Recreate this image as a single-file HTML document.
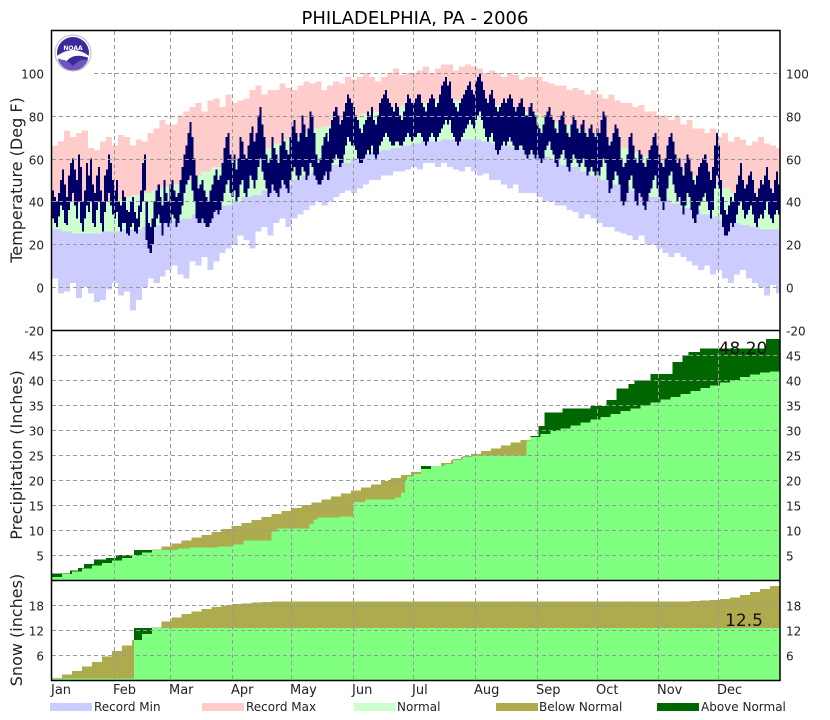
<!DOCTYPE html>
<html><head><meta charset="utf-8"><style>
body{margin:0;background:#fff;}
svg{display:block;font-family:"DejaVu Sans","Liberation Sans",sans-serif;}
</style></head><body>
<svg id="c" width="830" height="720" xmlns="http://www.w3.org/2000/svg">
<text x="415" y="24" text-anchor="middle" font-size="18" fill="#000">PHILADELPHIA, PA - 2006</text>
<g id="data"></g>
<g id="grid"></g>
<g id="frame" fill="none" stroke="#000" stroke-width="1.5">
<rect x="51.5" y="30.5" width="728.5" height="650"/>
<line x1="51.5" y1="330.5" x2="780" y2="330.5"/>
<line x1="51.5" y1="580.5" x2="780" y2="580.5"/>
</g>
<g>
<circle cx="73" cy="53" r="18" fill="#fff" stroke="#bbb" stroke-width="1"/>
<circle cx="73" cy="53" r="16" fill="#3a2a9a"/>
<path d="M57,56 Q73,44 89,56 L89,58 Q73,52 66,62 Q62,60 57,58Z" fill="#fff"/>
<path d="M58,60 Q66,58 73,66 Q80,58 88,60 A16,16 0 0 1 58,60Z" fill="#6e55c0"/>
<text x="73" y="50" text-anchor="middle" font-size="6" fill="#fff" font-weight="bold">NOAA</text>
</g>
<text transform="translate(22,180) rotate(-90)" text-anchor="middle" font-size="16" fill="#222">Temperature (Deg F)</text>
<text transform="translate(22,455) rotate(-90)" text-anchor="middle" font-size="16" fill="#222">Precipitation (Inches)</text>
<text transform="translate(22,630) rotate(-90)" text-anchor="middle" font-size="16" fill="#222">Snow (inches)</text>
<text x="743" y="354" text-anchor="middle" font-size="17" fill="#111">48.20</text>
<text x="744" y="626" text-anchor="middle" font-size="17" fill="#111">12.5</text>
<g id="labels"></g>
<g font-size="12" fill="#222">
<rect x="50" y="703" width="42" height="8" fill="#ccccff"/>
<text x="94" y="711">Record Min</text>
<rect x="202" y="703" width="42" height="8" fill="#ffcccc"/>
<text x="246" y="711">Record Max</text>
<rect x="354" y="703" width="42" height="8" fill="#ccffcc"/>
<text x="397" y="711">Normal</text>
<rect x="496" y="703" width="42" height="8" fill="#aeaa4e"/>
<text x="539" y="711">Below Normal</text>
<rect x="657" y="703" width="42" height="8" fill="#006600"/>
<text x="701" y="711">Above Normal</text>
</g>
</svg>
<script>
const months=["Jan","Feb","Mar","Apr","May","Jun","Jul","Aug","Sep","Oct","Nov","Dec"];
const monthStartDays=[0,31,59,90,120,151,181,212,243,273,304,334];
const tempTicks=[-20,0,20,40,60,80,100];
const precipTicks=[5,10,15,20,25,30,35,40,45];
const snowTicks=[6,12,18];
const actualHigh=[45,42,40,44,50,55,48,42,52,58,60,55,50,62,56,40,45,58,52,60,48,44,52,56,45,40,52,55,62,58,50,
45,50,40,38,45,42,36,35,40,42,35,32,38,45,58,62,40,30,28,32,40,45,48,42,38,50,44,40,
48,50,45,42,44,50,56,62,66,72,77,70,60,52,46,48,50,45,42,40,45,48,52,55,50,52,58,65,70,72,62,
58,62,55,60,70,68,62,60,66,72,75,68,72,80,84,76,70,62,58,60,70,65,62,58,66,72,68,64,62,70,
75,78,72,68,72,80,76,70,74,82,80,72,62,58,60,66,70,72,68,74,78,82,84,80,76,78,82,86,90,88,86,
84,80,78,74,72,76,78,82,80,84,78,76,80,86,88,90,92,88,86,84,82,86,84,80,78,82,86,90,88,86,
86,88,90,90,86,84,82,86,88,90,88,84,86,90,94,96,98,94,96,88,86,84,82,86,88,90,92,94,96,92,90,
96,98,100,96,92,88,86,90,92,88,84,82,84,86,88,86,88,90,88,84,82,84,86,88,84,80,80,84,86,82,80,
76,74,72,76,80,82,84,80,78,74,72,78,80,82,76,72,70,76,80,78,74,72,76,78,72,70,74,76,72,70,
74,72,78,82,80,70,66,68,72,76,74,70,60,56,58,62,70,72,66,60,58,64,62,58,56,60,64,66,70,72,66,
62,58,56,60,66,70,72,68,62,58,60,56,52,58,62,60,54,50,48,52,56,58,60,62,58,54,50,56,66,72,
66,50,42,36,34,38,42,40,44,48,52,58,50,46,48,52,54,50,44,42,46,50,48,52,56,50,46,44,50,54,48];
const actualLow=[32,30,28,33,38,36,30,29,36,40,44,38,32,40,30,26,32,38,35,40,30,28,36,40,30,26,35,40,44,38,34,
32,35,28,26,30,30,25,24,28,30,26,25,28,35,40,45,22,18,16,20,28,32,34,30,24,30,30,28,
30,34,32,28,30,34,38,44,48,50,52,45,40,32,30,30,32,30,28,28,30,32,35,36,34,36,40,44,48,50,44,
42,45,40,42,48,50,44,42,46,52,50,46,50,56,60,54,50,46,42,44,48,45,44,42,46,50,48,46,44,50,
54,56,52,50,52,56,54,50,52,58,56,52,50,48,48,50,52,54,50,54,58,60,62,60,56,58,62,66,70,68,66,
66,64,60,58,58,60,62,64,62,66,62,60,62,66,68,70,72,70,68,66,66,68,68,66,66,68,70,72,70,68,
70,70,72,72,70,68,66,68,70,72,70,68,70,72,74,76,78,76,78,72,70,68,66,68,70,72,74,76,78,76,74,
78,80,82,78,74,70,68,70,72,68,64,62,64,66,68,66,68,70,68,66,64,64,66,66,64,62,60,62,64,62,60,
62,60,58,60,64,66,68,64,62,58,56,60,62,64,60,56,54,58,62,60,58,56,58,60,56,52,54,56,54,52,
54,52,56,60,58,50,44,46,50,54,52,48,40,38,40,44,50,52,46,40,38,44,42,38,36,40,44,46,50,52,46,
42,40,36,40,46,52,54,48,44,40,42,38,34,38,44,42,36,32,30,34,38,40,42,44,40,36,32,36,46,52,
46,34,28,24,24,26,30,28,30,34,38,40,36,32,34,36,38,34,30,28,32,34,32,36,40,34,32,30,34,36,34];
const recordMax=[66,68,73,70,72,73,65,64,68,70,66,71,70,66,69,68,72,74,78,76,76,80,82,84,86,82,87,88,84,90,
86,87,88,92,94,90,92,92,95,93,92,94,96,95,96,92,94,96,95,98,97,98,100,98,96,98,100,102,99,100,
100,101,103,100,102,104,104,101,103,104,103,102,100,101,100,98,100,99,97,98,98,98,96,95,94,94,92,93,92,90,
92,90,88,90,87,86,86,84,85,82,82,80,80,78,80,76,78,74,74,72,74,70,72,68,70,69,66,68,70,67,66,65];
const recordMin=[4,-3,-2,2,-5,0,-3,-7,-6,-1,2,-4,-2,-11,-6,0,4,2,5,8,10,6,4,12,10,14,8,12,16,18,
20,24,22,18,26,28,24,30,32,28,32,34,36,38,40,38,40,42,44,45,44,46,48,50,50,52,52,54,54,55,
56,55,58,58,56,58,56,55,54,56,54,52,53,50,50,48,46,48,44,44,44,42,40,40,38,38,36,35,32,34,
32,30,28,28,26,25,24,22,24,20,20,18,16,14,16,14,12,10,8,10,6,8,4,2,6,8,4,2,0,-4,1,-3];
const normalHigh=[41,40,39,39,39,40,41,42,43,44,45,47,48,50,52,54,56,58,59,61,63,65,67,69,70,72,74,75,77,78,
79,81,82,83,84,85,86,86,87,87,87,87,87,86,85,84,83,82,81,79,77,76,74,72,71,69,67,65,63,61,
60,58,56,54,52,50,48,46,44,43,42,41,41];
const normalLow=[27,26,25,25,25,26,26,27,27,28,29,30,31,32,34,35,37,38,40,42,43,45,47,48,50,52,54,55,57,58,
60,62,63,64,65,66,67,68,68,69,69,69,69,68,67,66,65,64,62,61,59,57,56,54,52,50,48,47,45,43,
42,41,39,37,36,34,33,31,30,29,28,27,27];
const precipNormal=[0.6,1.2,1.7,2.3,2.9,3.4,3.9,4.4,5.0,5.5,6.1,6.7,7.3,7.9,8.5,9.0,9.6,10.2,10.8,11.4,
12.0,12.6,13.2,13.8,14.4,15.0,15.5,16.1,16.7,17.3,17.9,18.5,19.1,19.8,20.4,21.0,21.6,22.2,22.8,23.4,
24.0,24.6,25.2,25.8,26.3,26.9,27.5,28.0,28.6,29.2,29.8,30.3,30.9,31.5,32.1,32.6,33.2,33.8,34.3,34.9,
35.5,36.1,36.6,37.2,37.8,38.4,38.9,39.5,40.0,40.6,41.1,41.5,41.7];
const precipDays=[0,9,13,16,21,27,32,41,63,69,83,91,96,110,113,129,131,133,144,151,157,172,175,177,178,181,185,197,201,206,211,238,240,244,247,256,270,278,283,289,292,300,311,316,319,325,358];
const precipTotals=[1.3,1.9,2.4,3.2,4.1,4.4,5.0,6.0,6.3,6.5,6.7,7.1,7.9,9.7,10.3,11.2,12.1,12.5,12.7,15.6,16.1,16.5,17.5,20.0,20.7,21.2,22.8,23.2,24.1,24.7,24.9,27.9,28.8,30.8,33.5,34.3,34.8,36.0,38.3,39.2,39.9,41.2,43.6,44.9,45.6,46.3,48.2];
const snowNormal=[0.5,1.3,2.2,3.2,4.3,5.6,7.0,8.3,9.6,11.0,12.6,14.0,15.0,15.8,16.5,17.0,17.5,17.9,18.2,18.4,18.6,18.7,18.8,18.8,
18.8,18.8,18.8,18.8,18.8,18.8,18.8,18.8,18.8,18.8,18.8,18.8,18.8,18.8,18.8,18.8,18.8,18.8,18.8,18.8,18.8,18.8,18.8,18.8,18.8,18.8,
18.8,18.8,18.8,18.8,18.8,18.8,18.8,18.8,18.8,18.8,18.8,18.8,18.8,18.8,19.0,19.1,19.2,19.4,19.8,20.4,21.1,21.8,22.6];
const snowDays=[0,41];
const snowTotals=[0.4,12.5];

const NS="http://www.w3.org/2000/svg";
const X0=52,X1=780,DAYS=365;
function xScale(d){return X0+d*(X1-X0)/DAYS;}
function yTemp(t){return 330-(t+20)*300/140;}
function yPrecip(v){return 580-v*250/50;}
function ySnow(v){return 680-v*100/24;}
function binVal(arr,d){return arr[Math.min(arr.length-1,Math.floor(d*arr.length/DAYS))];}
function stepVal(days,vals,d){let v=0;for(let i=0;i<days.length;i++){if(days[i]<=d)v=vals[i];}return v;}
const dataG=document.getElementById('data');
function rect(par,x,y1,y2,fill,w){
  const top=Math.min(y1,y2),h=Math.abs(y2-y1);
  const r=document.createElementNS(NS,'rect');
  r.setAttribute('x',x.toFixed(2));r.setAttribute('y',top.toFixed(2));
  r.setAttribute('width',w.toFixed(2));r.setAttribute('height',Math.max(h,0).toFixed(2));
  r.setAttribute('fill',fill);r.setAttribute('shape-rendering','crispEdges');
  par.appendChild(r);return r;
}
function group(name){const g=document.createElementNS(NS,'g');


dataG.appendChild(g);return g;}
const gRec=group('record-range-bars'),gNorm=group('normal-range-bars'),gLow=group('record-min-bars'),gAct=group('actual-temperature-bars');
const gPn=group('precip-normal-area'),gPb=group('precip-below-normal'),gPa=group('precip-above-normal');
const gSn=group('snow-normal-area'),gSb=group('snow-below-normal'),gSa=group('snow-above-normal');
const dw=(X1-X0)/DAYS;
for(let d=0;d<DAYS;d++){
  const x=xScale(d),w=dw+0.05;
  const rmax=binVal(recordMax,d),rmin=binVal(recordMin,d),nh=binVal(normalHigh,d),nl=binVal(normalLow,d);
  let r=rect(gRec,x,yTemp(rmax),yTemp(rmin),'#ffcccc',w);
  
  
  r=rect(gNorm,x,yTemp(nh),yTemp(nl),'#ccffcc',w);
  
  
  r=rect(gLow,x,yTemp(nl),yTemp(rmin),'#ccccff',w);
  
  
  r=rect(gAct,x,yTemp(actualHigh[d]),yTemp(actualLow[d]),'#000066',w);
  
  
  const pa=stepVal(precipDays,precipTotals,d),pn=binVal(precipNormal,d);
  r=rect(gPn,x,yPrecip(0),yPrecip(Math.min(pa,pn)),'#80ff80',w);
  
  
  if(pn>pa){r=rect(gPb,x,yPrecip(pa),yPrecip(pn),'#aeaa4e',w);
  
  }
  else if(pa>pn){r=rect(gPa,x,yPrecip(pn),yPrecip(pa),'#006600',w);
  
  }
  const sa=stepVal(snowDays,snowTotals,d),sn=binVal(snowNormal,d);
  r=rect(gSn,x,ySnow(0),ySnow(Math.min(sa,sn)),'#80ff80',w);
  
  
  if(sn>sa){r=rect(gSb,x,ySnow(sa),ySnow(sn),'#aeaa4e',w);
  
  }
  else if(sa>sn){r=rect(gSa,x,ySnow(sn),ySnow(sa),'#006600',w);
  
  }
}
const gridG=document.getElementById('grid');
function gline(x1,y1,x2,y2,name){const l=document.createElementNS(NS,'line');
l.setAttribute('x1',x1);l.setAttribute('y1',y1);l.setAttribute('x2',x2);l.setAttribute('y2',y2);
l.setAttribute('stroke','#999');l.setAttribute('stroke-dasharray','4,3');l.setAttribute('stroke-width','1');


gridG.appendChild(l);}
const labG=document.getElementById('labels');
function label(x,y,txt,anchor,size,name){const t=document.createElementNS(NS,'text');
t.setAttribute('x',x);t.setAttribute('y',y);t.setAttribute('text-anchor',anchor);t.setAttribute('font-size',size);t.setAttribute('fill','#222');
t.textContent=txt;


labG.appendChild(t);}
monthStartDays.forEach((d,i)=>{const x=Math.round(xScale(d))+0.5;
 if(d>0) gline(x,31,x,680,'month-gridline');
 label(Math.round(xScale(d))-1,694,months[i],'start',13,'month-label');});
tempTicks.forEach(t=>{const y=Math.round(yTemp(t))+0.5;
 if(t>=0) gline(t===100?94:52,y,780,y,'temp-gridline');
 label(44,y+5,String(t),'end',12,'temp-tick-left');
 label(786,y+5,String(t),'start',12,'temp-tick-right');});
precipTicks.forEach(v=>{const y=Math.round(yPrecip(v))+0.5;
 gline(52,y,780,y,'precip-gridline');
 label(44,y+5,String(v),'end',12,'precip-tick-left');
 label(786,y+5,String(v),'start',12,'precip-tick-right');});
snowTicks.forEach(v=>{const y=Math.round(ySnow(v))+0.5;
 gline(52,y,780,y,'snow-gridline');
 label(44,y+5,String(v),'end',12,'snow-tick-left');
 label(786,y+5,String(v),'start',12,'snow-tick-right');});
</script>
</body></html>
